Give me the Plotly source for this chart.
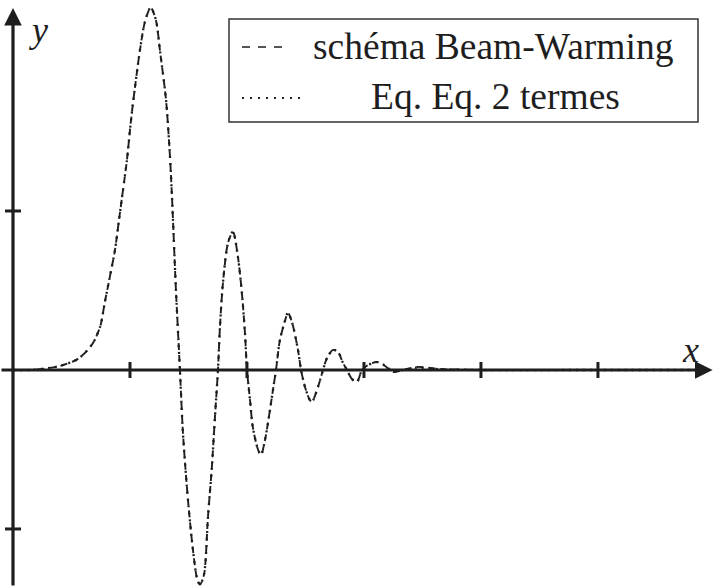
import plotly.graph_objects as go

# Sampled profiles of the solution u(x) at the final time
x_bw = [0.0, 0.145, 0.316, 0.40, 0.556, 0.675, 0.744, 0.786, 0.829, 0.872, 0.906, 0.94,
        0.974, 1.0, 1.026, 1.085, 1.128, 1.177, 1.222, 1.256, 1.308, 1.342, 1.359, 1.393,
        1.427, 1.453, 1.496, 1.538, 1.573, 1.598, 1.632, 1.667, 1.70, 1.726, 1.752, 1.769,
        1.795, 1.838, 1.88, 1.923, 1.957, 1.983, 2.0, 2.026, 2.05, 2.094, 2.12, 2.154,
        2.18, 2.222, 2.248, 2.282, 2.325, 2.35, 2.385, 2.436, 2.462, 2.496, 2.538, 2.556,
        2.607, 2.65, 2.684, 2.735, 2.778, 2.821, 2.855, 2.897, 2.94, 2.983, 3.034, 3.111,
        3.18, 3.248, 3.333, 3.453, 3.65, 3.99, 5.0, 5.9]
y_bw = [0.0, 0.0, 0.013, 0.025, 0.07, 0.16, 0.27, 0.43, 0.59, 0.755, 0.943, 1.13,
        1.32, 1.51, 1.68, 2.01, 2.19, 2.28, 2.20, 2.01, 1.70, 1.34, 1.09, 0.50,
        0.0, -0.40, -0.82, -1.13, -1.31, -1.35, -1.29, -0.92, -0.61, -0.30, 0.0, 0.27,
        0.55, 0.80, 0.87, 0.71, 0.48, 0.23, 0.0, -0.19, -0.36, -0.50, -0.535, -0.44,
        -0.33, -0.126, 0.0, 0.19, 0.31, 0.36, 0.30, 0.126, 0.0, -0.107, -0.19, -0.20,
        -0.107, 0.0, 0.075, 0.126, 0.113, 0.044, 0.0, -0.057, -0.075, 0.0, 0.031, 0.05,
        0.025, -0.013, 0.0, 0.019, 0.006, 0.0, 0.0, 0.0]

x_eq = [0.0, 0.145, 0.316, 0.40, 0.556, 0.675, 0.744, 0.786, 0.829, 0.872, 0.906, 0.94,
        0.974, 1.0, 1.026, 1.085, 1.128, 1.177, 1.222, 1.256, 1.308, 1.342, 1.359, 1.393,
        1.427, 1.453, 1.496, 1.538, 1.573, 1.598, 1.632, 1.667, 1.70, 1.726, 1.752, 1.769,
        1.795, 1.838, 1.88, 1.923, 1.957, 1.983, 2.0, 2.026, 2.05, 2.094, 2.12, 2.154,
        2.18, 2.222, 2.248, 2.282, 2.325, 2.35, 2.385, 2.436, 2.462, 2.496, 2.538, 2.556,
        2.607, 2.65, 2.684, 2.735, 2.778, 2.821, 2.855, 2.897, 2.94, 2.983, 3.034, 3.111,
        3.18, 3.248, 3.333, 3.453, 3.65, 3.99, 5.0, 5.9]
y_eq = [0.0, 0.0, 0.013, 0.025, 0.07, 0.16, 0.27, 0.43, 0.59, 0.755, 0.943, 1.13,
        1.32, 1.51, 1.68, 2.01, 2.19, 2.28, 2.20, 2.01, 1.70, 1.34, 1.09, 0.50,
        0.0, -0.40, -0.82, -1.13, -1.31, -1.35, -1.29, -0.92, -0.61, -0.30, 0.0, 0.27,
        0.55, 0.80, 0.87, 0.71, 0.48, 0.23, 0.0, -0.19, -0.36, -0.50, -0.535, -0.44,
        -0.33, -0.126, 0.0, 0.19, 0.31, 0.36, 0.30, 0.126, 0.0, -0.107, -0.19, -0.20,
        -0.107, 0.0, 0.075, 0.126, 0.113, 0.044, 0.0, -0.057, -0.075, 0.0, 0.031, 0.05,
        0.028, -0.010, 0.0, 0.015, 0.005, 0.0, 0.0, 0.0]

x_ticks = [1, 2, 3, 4, 5]
y_ticks = [-1, 1]
legend_labels = ["schéma Beam-Warming", "Eq. Eq. 2 termes"]

INK = "#1e1e1e"
SERIF = "Liberation Serif"
W, H = 716, 587
X_RANGE = [-0.111, 6.009]
Y_RANGE = [-1.365, 2.327]

fig = go.Figure()
fig.add_trace(go.Scatter(x=x_bw, y=y_bw, mode="lines",
                         line=dict(color=INK, width=1.9, dash="7px,5px", shape="spline", smoothing=0.8),
                         showlegend=False, hoverinfo="skip"))
fig.add_trace(go.Scatter(x=x_eq, y=y_eq, mode="lines",
                         line=dict(color=INK, width=2.3, dash="2px,5px", shape="spline", smoothing=0.8),
                         showlegend=False, hoverinfo="skip"))

shapes = []
# tick marks, fixed pixel length across the axis lines
for t in x_ticks:
    shapes.append(dict(type="line", xref="x", yref="y", x0=t, x1=t, y0=-8, y1=8,
                       ysizemode="pixel", yanchor=0, line=dict(color=INK, width=3)))
for t in y_ticks:
    shapes.append(dict(type="line", xref="x", yref="y", x0=-8, x1=8, y0=t, y1=t,
                       xsizemode="pixel", xanchor=0, line=dict(color=INK, width=3)))


def px(xp):
    return xp / W


def py(yp):
    return 1 - yp / H


# legend frame and line samples
shapes.append(dict(type="rect", xref="paper", yref="paper",
                   x0=px(229), x1=px(698), y0=py(122), y1=py(19),
                   line=dict(color="#333333", width=1.5), fillcolor="white", layer="above"))
shapes.append(dict(type="line", xref="paper", yref="paper",
                   x0=px(242), x1=px(288), y0=py(47), y1=py(47),
                   line=dict(color=INK, width=1.6, dash="8px,8px"), layer="above"))
shapes.append(dict(type="line", xref="paper", yref="paper",
                   x0=px(242), x1=px(302), y0=py(98), y1=py(98),
                   line=dict(color=INK, width=1.8, dash="2px,6px"), layer="above"))

annotations = [
    # axes with arrow heads
    dict(x=5.98, y=0, ax=X_RANGE[0], ay=0, xref="x", yref="y", axref="x", ayref="y",
         text="", showarrow=True, arrowhead=2, arrowsize=1.1, arrowwidth=3.2, arrowcolor=INK),
    dict(x=0, y=2.277, ax=0, ay=Y_RANGE[0], xref="x", yref="y", axref="x", ayref="y",
         text="", showarrow=True, arrowhead=2, arrowsize=1.1, arrowwidth=3.2, arrowcolor=INK),
    dict(x=px(690), y=py(350), xref="paper", yref="paper", text="<i>x</i>", showarrow=False,
         font=dict(family=SERIF, size=36, color=INK), xanchor="center", yanchor="middle"),
    dict(x=px(38), y=py(30), xref="paper", yref="paper", text="<i>y</i>", showarrow=False,
         font=dict(family=SERIF, size=36, color=INK), xanchor="center", yanchor="middle"),
    dict(x=px(311), y=py(46), xref="paper", yref="paper", text=legend_labels[0], showarrow=False,
         font=dict(family=SERIF, size=37.5, color=INK), xanchor="left", yanchor="middle"),
    dict(x=px(495), y=py(96), xref="paper", yref="paper", text=legend_labels[1], showarrow=False,
         font=dict(family=SERIF, size=37.5, color=INK), xanchor="center", yanchor="middle"),
]

fig.update_layout(
    width=W, height=H,
    margin=dict(l=0, r=0, t=0, b=0),
    paper_bgcolor="white", plot_bgcolor="white",
    xaxis=dict(range=X_RANGE, visible=False, fixedrange=True),
    yaxis=dict(range=Y_RANGE, visible=False, fixedrange=True),
    shapes=shapes, annotations=annotations, showlegend=False,
)

fig.write_html("out.html")
